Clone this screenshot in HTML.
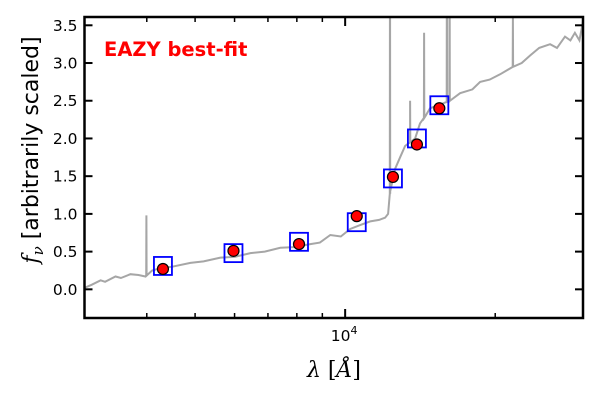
<!DOCTYPE html>
<html><head><meta charset="utf-8"><style>
body{margin:0;background:#fff;}
svg{display:block;font-family:"DejaVu Sans","Liberation Sans",sans-serif;}
</style></head><body>
<svg id="chart" width="600" height="400" xmlns="http://www.w3.org/2000/svg">
<rect width="600" height="400" fill="#fff"/>
<g id="plot"></g>
<text x="104" y="56" font-size="19.5" font-weight="bold" fill="#ff0000">EAZY best-fit</text>
<text x="334" y="377" text-anchor="middle" font-size="22" font-family="DejaVu Serif, Liberation Serif, serif"><tspan font-style="italic">λ</tspan> [<tspan font-style="italic">Å</tspan>]</text>
<text transform="translate(38,150) rotate(-90)" text-anchor="middle" font-size="22"><tspan font-family="DejaVu Serif, serif" font-style="italic">f</tspan><tspan font-family="DejaVu Serif, serif" font-style="italic" font-size="15" dy="5">ν</tspan><tspan dy="-5"> [arbitrarily scaled]</tspan></text>
</svg>
<script>
const specLam=[3000,3100,3231,3300,3462,3550,3709,3850,3975,4100,4260,4500,4893,5200,5619,6000,6454,6900,7413,7900,8514,8900,9336,9800,10237,10700,11227,11700,12028,12195,12313,12598,12892,13192,13497,13812,14133,14500,14799,15497,16227,17006,18000,18648,19500,20452,21723,22600,23501,24500,25770,26600,27604,28300,28900,29500,30000];
const specFlux=[0.02,0.06,0.12,0.1,0.17,0.15,0.2,0.19,0.17,0.25,0.28,0.3,0.35,0.37,0.42,0.43,0.48,0.5,0.55,0.56,0.6,0.62,0.72,0.7,0.8,0.85,0.9,0.92,0.95,1.0,1.3,1.6,1.75,1.9,1.95,2.0,2.2,2.3,2.4,2.45,2.5,2.6,2.65,2.75,2.78,2.85,2.95,3.0,3.1,3.2,3.25,3.2,3.35,3.3,3.4,3.3,3.55];
const lineLam=[3993,12300,13500,14400,16000,16200,21700];
const linePeak=[0.98,5,2.5,3.4,5,5,3.6];
const obsLam=[4310,5970,8080,10550,12470,13930,15450];
const obsFlux=[0.27,0.51,0.60,0.97,1.49,1.92,2.40];
const modelFlux=[0.31,0.48,0.63,0.89,1.47,2.0,2.44];
const yTicks=[0,0.5,1,1.5,2,2.5,3,3.5];
const yTickLabels=["0.0","0.5","1.0","1.5","2.0","2.5","3.0","3.5"];
const xMinor=[4000,5000,6000,7000,8000,9000,20000];
const xMajor=[10000];

const L=84.5,R=583,T=17,B=318;
const xLo=3000,xHi=30000,yLo=-0.38,yHi=3.61;
const sx=v=>L+(Math.log10(v)-Math.log10(xLo))/(Math.log10(xHi)-Math.log10(xLo))*(R-L);
const sy=v=>B-(v-yLo)/(yHi-yLo)*(B-T);
const NS="http://www.w3.org/2000/svg";
const g=document.getElementById('plot');
function mk(tag,attrs,parent){const e=document.createElementNS(NS,tag);for(const k in attrs)e.setAttribute(k,attrs[k]);(parent||g).appendChild(e);return e;}
const defs=mk('defs',{});const cp=mk('clipPath',{id:'clip'},defs);mk('rect',{x:L,y:T,width:R-L,height:B-T},cp);

function cont(l){for(let i=0;i<specLam.length-1;i++){if(l>=specLam[i]&&l<=specLam[i+1]){const t=(l-specLam[i])/(specLam[i+1]-specLam[i]);return specFlux[i]+t*(specFlux[i+1]-specFlux[i]);}}return specFlux[specFlux.length-1];}
let pts=specLam.map((l,i)=>[l,specFlux[i]]);
lineLam.forEach((l,i)=>{const c=cont(l);pts.push([l*0.999,c],[l,linePeak[i]],[l*1.001,c]);});
pts.sort((a,b)=>a[0]-b[0]);
const spec=mk('path',{d:'M'+pts.map(p=>sx(p[0]).toFixed(1)+','+sy(p[1]).toFixed(1)).join('L'),fill:'none',stroke:'#a6a6a6','stroke-width':2,'clip-path':'url(#clip)'});



modelFlux.forEach((v,i)=>{const r=mk('rect',{x:sx(obsLam[i])-9,y:sy(v)-9,width:18,height:18,fill:'none',stroke:'#0000ff','stroke-width':1.8});

});
obsFlux.forEach((v,i)=>{const c=mk('circle',{cx:sx(obsLam[i]),cy:sy(v),r:5.5,fill:'#ff0000',stroke:'#000','stroke-width':1.2});

});

const ax=mk('rect',{x:L,y:T,width:R-L,height:B-T,fill:'none',stroke:'#000','stroke-width':2.5});


yTicks.forEach((v,i)=>{const y=sy(v);
mk('line',{x1:L,x2:L+8,y1:y,y2:y,stroke:'#000','stroke-width':2});
mk('line',{x1:R-8,x2:R,y1:y,y2:y,stroke:'#000','stroke-width':2});
const t=mk('text',{x:L-7,y:y+5.5,'text-anchor':'end','font-size':15.5,fill:'#000'});t.textContent=yTickLabels[i];

});
xMinor.forEach(v=>{const x=sx(v);
mk('line',{x1:x,x2:x,y1:B,y2:B-5,stroke:'#000','stroke-width':1.5});
mk('line',{x1:x,x2:x,y1:T,y2:T+5,stroke:'#000','stroke-width':1.5});});
xMajor.forEach(v=>{const x=sx(v);
mk('line',{x1:x,x2:x,y1:B,y2:B-9,stroke:'#000','stroke-width':2});
mk('line',{x1:x,x2:x,y1:T,y2:T+9,stroke:'#000','stroke-width':2});
const t=mk('text',{x:x-1,y:341,'text-anchor':'middle','font-size':15.5,fill:'#000'});


t.innerHTML='10<tspan dy="-7" font-size="11">4</tspan>';});
</script>
</body></html>
